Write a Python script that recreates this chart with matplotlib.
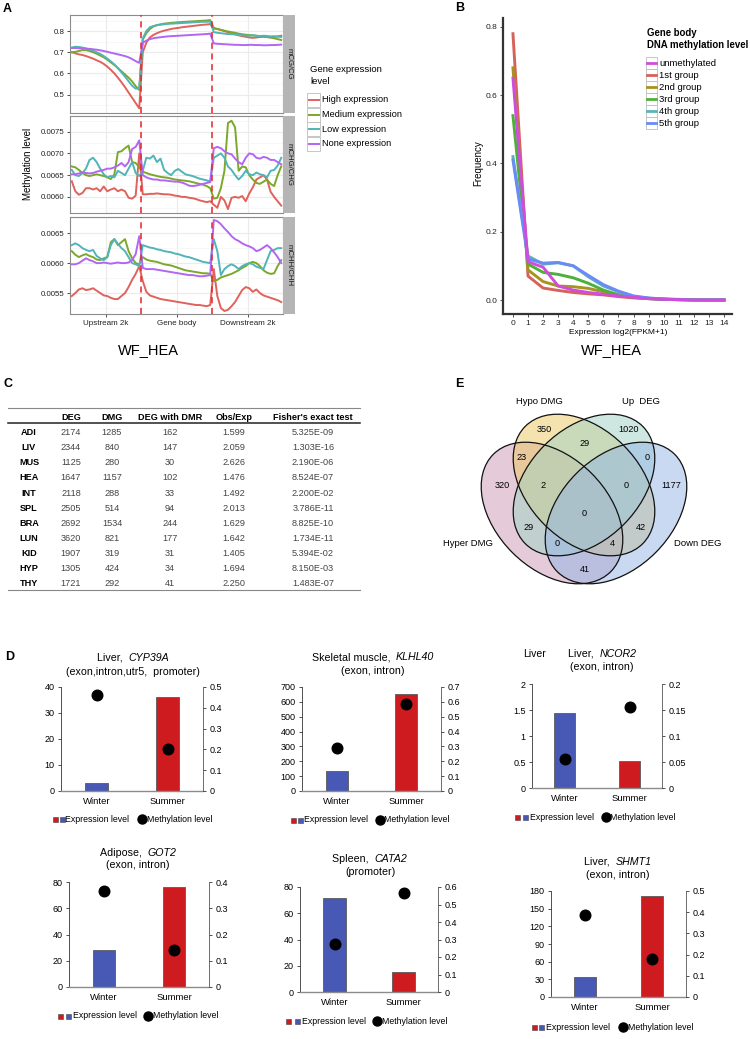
import numpy as np
import matplotlib
matplotlib.use("Agg")
import matplotlib.pyplot as plt
from matplotlib.patches import Ellipse, Rectangle
from matplotlib.lines import Line2D
from matplotlib.ticker import AutoMinorLocator, FuncFormatter

plt.rcParams['font.family'] = ['Liberation Sans', 'DejaVu Sans']

W, H = 750, 1039

# ---------------- panel A data (20 bins upstream, body, downstream) ----------------
expr_levels = ["High expression", "Medium expression", "Low expression", "None expression"]

cg_high = [0.700, 0.695, 0.690, 0.687, 0.682, 0.676, 0.670, 0.662, 0.655, 0.645, 0.632, 0.617, 0.600, 0.580, 0.558, 0.535, 0.510, 0.485, 0.460, 0.435,
           0.700, 0.745, 0.770, 0.782, 0.790, 0.797, 0.802, 0.806, 0.810, 0.813, 0.815, 0.818, 0.820, 0.822, 0.824, 0.826, 0.828, 0.830, 0.831, 0.833,
           0.812, 0.810, 0.805, 0.800, 0.795, 0.790, 0.785, 0.780, 0.776, 0.773, 0.770, 0.768, 0.770, 0.772, 0.773, 0.772, 0.770, 0.772, 0.775, 0.778]
cg_med = [0.700, 0.702, 0.706, 0.710, 0.710, 0.706, 0.700, 0.693, 0.685, 0.676, 0.665, 0.652, 0.640, 0.625, 0.610, 0.595, 0.580, 0.562, 0.540, 0.522,
          0.760, 0.790, 0.810, 0.822, 0.828, 0.832, 0.835, 0.837, 0.839, 0.840, 0.842, 0.843, 0.844, 0.845, 0.846, 0.847, 0.848, 0.849, 0.850, 0.852,
          0.815, 0.810, 0.806, 0.802, 0.798, 0.795, 0.792, 0.788, 0.785, 0.783, 0.781, 0.780, 0.778, 0.776, 0.775, 0.772, 0.770, 0.766, 0.762, 0.758]
cg_low = [0.722, 0.726, 0.725, 0.722, 0.718, 0.713, 0.708, 0.700, 0.692, 0.682, 0.670, 0.657, 0.642, 0.625, 0.605, 0.585, 0.563, 0.542, 0.528, 0.530,
          0.765, 0.800, 0.818, 0.824, 0.828, 0.830, 0.832, 0.834, 0.835, 0.836, 0.837, 0.838, 0.839, 0.840, 0.841, 0.842, 0.843, 0.844, 0.844, 0.845,
          0.795, 0.792, 0.790, 0.788, 0.786, 0.785, 0.784, 0.782, 0.780, 0.779, 0.778, 0.780, 0.778, 0.776, 0.778, 0.777, 0.775, 0.776, 0.774, 0.772]
cg_none = [0.720, 0.720, 0.719, 0.718, 0.717, 0.716, 0.714, 0.712, 0.709, 0.706, 0.702, 0.698, 0.694, 0.690, 0.686, 0.682, 0.676, 0.668, 0.658, 0.650,
           0.745, 0.755, 0.762, 0.766, 0.769, 0.771, 0.773, 0.775, 0.776, 0.777, 0.778, 0.779, 0.780, 0.781, 0.782, 0.783, 0.784, 0.785, 0.786, 0.788,
           0.742, 0.740, 0.739, 0.738, 0.737, 0.736, 0.735, 0.735, 0.734, 0.734, 0.735, 0.735, 0.734, 0.734, 0.733, 0.733, 0.734, 0.734, 0.735, 0.736]

chg_high = [0.00636, 0.00613, 0.00605, 0.00609, 0.00620, 0.00620, 0.00617, 0.00620, 0.00613, 0.00624, 0.00613, 0.00617, 0.00620, 0.00613, 0.00617, 0.00613, 0.00598, 0.00596, 0.00603, 0.00700,
            0.00606, 0.00606, 0.00607, 0.00607, 0.00608, 0.00607, 0.00606, 0.00606, 0.00605, 0.00603, 0.00602, 0.00600, 0.00600, 0.00598, 0.00597, 0.00595, 0.00592, 0.00590, 0.00588, 0.00590,
            0.00582, 0.00575, 0.00600, 0.00592, 0.00572, 0.00598, 0.00600, 0.00598, 0.00602, 0.00590, 0.00608, 0.00622, 0.00640, 0.00645, 0.00650, 0.00640, 0.00612, 0.00600, 0.00590, 0.00580]
chg_med = [0.00670, 0.00668, 0.00662, 0.00655, 0.00650, 0.00648, 0.00650, 0.00652, 0.00650, 0.00648, 0.00645, 0.00641, 0.00652, 0.00703, 0.00705, 0.00712, 0.00718, 0.00680, 0.00678, 0.00668,
           0.00658, 0.00655, 0.00652, 0.00650, 0.00648, 0.00646, 0.00645, 0.00644, 0.00642, 0.00640, 0.00639, 0.00638, 0.00637, 0.00636, 0.00634, 0.00632, 0.00630, 0.00628, 0.00625, 0.00620,
           0.00596, 0.00598, 0.00620, 0.00660, 0.00770, 0.00775, 0.00760, 0.00660, 0.00670, 0.00668, 0.00650, 0.00640, 0.00632, 0.00630, 0.00635, 0.00640, 0.00630, 0.00625, 0.00650, 0.00670]
chg_low = [0.00662, 0.00650, 0.00648, 0.00655, 0.00665, 0.00685, 0.00690, 0.00680, 0.00665, 0.00652, 0.00645, 0.00648, 0.00645, 0.00660, 0.00655, 0.00650, 0.00665, 0.00680, 0.00655, 0.00648,
           0.00660, 0.00690, 0.00688, 0.00695, 0.00680, 0.00688, 0.00662, 0.00655, 0.00650, 0.00660, 0.00664, 0.00658, 0.00652, 0.00650, 0.00648, 0.00645, 0.00642, 0.00640, 0.00638, 0.00635,
           0.00690, 0.00695, 0.00700, 0.00690, 0.00670, 0.00662, 0.00650, 0.00640, 0.00648, 0.00660, 0.00652, 0.00650, 0.00656, 0.00652, 0.00650, 0.00645, 0.00660, 0.00662, 0.00672, 0.00690]
chg_none = [0.00652, 0.00652, 0.00654, 0.00656, 0.00655, 0.00654, 0.00655, 0.00658, 0.00660, 0.00662, 0.00665, 0.00665, 0.00668, 0.00672, 0.00678, 0.00670, 0.00680, 0.00710, 0.00715, 0.00730,
            0.00650, 0.00645, 0.00642, 0.00640, 0.00640, 0.00638, 0.00638, 0.00637, 0.00636, 0.00635, 0.00635, 0.00633, 0.00630, 0.00626, 0.00625, 0.00626, 0.00628, 0.00630, 0.00632, 0.00634,
            0.00712, 0.00715, 0.00712, 0.00705, 0.00700, 0.00698, 0.00688, 0.00680, 0.00675, 0.00690, 0.00700, 0.00698, 0.00690, 0.00688, 0.00692, 0.00690, 0.00685, 0.00685, 0.00680, 0.00675]

chh_high = [0.00545, 0.00550, 0.00556, 0.00558, 0.00555, 0.00556, 0.00558, 0.00554, 0.00550, 0.00546, 0.00545, 0.00542, 0.00540, 0.00540, 0.00545, 0.00550, 0.00560, 0.00572, 0.00582, 0.00595,
            0.00570, 0.00552, 0.00546, 0.00544, 0.00542, 0.00540, 0.00539, 0.00538, 0.00537, 0.00536, 0.00535, 0.00534, 0.00533, 0.00532, 0.00531, 0.00530, 0.00530, 0.00529, 0.00528, 0.00530,
            0.00590, 0.00545, 0.00525, 0.00520, 0.00522, 0.00528, 0.00535, 0.00545, 0.00555, 0.00560, 0.00558, 0.00552, 0.00556, 0.00550, 0.00546, 0.00544, 0.00542, 0.00540, 0.00538, 0.00535]
chh_med = [0.00620, 0.00614, 0.00610, 0.00613, 0.00615, 0.00612, 0.00610, 0.00606, 0.00605, 0.00608, 0.00610, 0.00635, 0.00640, 0.00630, 0.00635, 0.00640, 0.00620, 0.00608, 0.00600, 0.00598,
           0.00610, 0.00606, 0.00604, 0.00603, 0.00602, 0.00600, 0.00598, 0.00597, 0.00596, 0.00594, 0.00592, 0.00590, 0.00588, 0.00587, 0.00586, 0.00585, 0.00584, 0.00583, 0.00583, 0.00582,
           0.00570, 0.00572, 0.00576, 0.00578, 0.00580, 0.00582, 0.00585, 0.00588, 0.00592, 0.00595, 0.00600, 0.00602, 0.00600, 0.00595, 0.00588, 0.00584, 0.00582, 0.00583, 0.00595, 0.00605]
chh_low = [0.00630, 0.00633, 0.00630, 0.00625, 0.00622, 0.00620, 0.00622, 0.00612, 0.00608, 0.00605, 0.00610, 0.00630, 0.00640, 0.00632, 0.00625, 0.00620, 0.00610, 0.00600, 0.00598, 0.00595,
           0.00630, 0.00628, 0.00626, 0.00625, 0.00623, 0.00622, 0.00620, 0.00619, 0.00618, 0.00616, 0.00615, 0.00613, 0.00611, 0.00610, 0.00608, 0.00606, 0.00604, 0.00602, 0.00601, 0.00600,
           0.00640, 0.00620, 0.00580, 0.00590, 0.00595, 0.00598, 0.00595, 0.00590, 0.00595, 0.00598, 0.00600, 0.00598, 0.00594, 0.00592, 0.00590, 0.00605, 0.00620, 0.00622, 0.00625, 0.00625]
chh_none = [0.00598, 0.00598, 0.00600, 0.00604, 0.00608, 0.00605, 0.00603, 0.00600, 0.00600, 0.00601, 0.00600, 0.00599, 0.00600, 0.00601, 0.00600, 0.00600, 0.00601, 0.00605, 0.00615, 0.00645,
            0.00592, 0.00590, 0.00590, 0.00590, 0.00589, 0.00588, 0.00587, 0.00586, 0.00585, 0.00584, 0.00583, 0.00582, 0.00581, 0.00580, 0.00580, 0.00579, 0.00578, 0.00578, 0.00579, 0.00580,
            0.00672, 0.00670, 0.00665, 0.00658, 0.00652, 0.00645, 0.00640, 0.00637, 0.00633, 0.00630, 0.00628, 0.00625, 0.00620, 0.00622, 0.00626, 0.00630, 0.00625, 0.00618, 0.00610, 0.00600]

region_ticks = ["Upstream 2k", "Gene body", "Downstream 2k"]

# ---------------- panel B data ----------------
expr_bins = list(range(15))
meth_groups = ["unmethylated", "1st group", "2nd group", "3rd group", "4th group", "5th group"]
freq_unmeth = [0.65, 0.112, 0.096, 0.041, 0.029, 0.022, 0.017, 0.012, 0.008, 0.004, 0.002, 0.001, 0.0, 0.0, 0.0]
freq_g1 = [0.78, 0.070, 0.035, 0.028, 0.022, 0.018, 0.015, 0.010, 0.006, 0.004, 0.002, 0.001, 0.001, 0.0, 0.0]
freq_g2 = [0.68, 0.088, 0.054, 0.041, 0.039, 0.034, 0.024, 0.015, 0.008, 0.005, 0.003, 0.002, 0.001, 0.0, 0.0]
freq_g3 = [0.54, 0.105, 0.081, 0.075, 0.065, 0.049, 0.029, 0.015, 0.008, 0.004, 0.002, 0.001, 0.0, 0.0, 0.0]
freq_g4 = [0.42, 0.129, 0.105, 0.109, 0.100, 0.068, 0.041, 0.024, 0.010, 0.005, 0.002, 0.001, 0.0, 0.0, 0.0]
freq_g5 = [0.41, 0.120, 0.108, 0.110, 0.100, 0.072, 0.045, 0.026, 0.012, 0.006, 0.003, 0.001, 0.0, 0.0, 0.0]

# ---------------- panel C data ----------------
tissues = ["ADI", "LIV", "MUS", "HEA", "INT", "SPL", "BRA", "LUN", "KID", "HYP", "THY"]
deg = [2174, 2344, 1125, 1647, 2118, 2505, 2692, 3620, 1907, 1305, 1721]
dmg = [1285, 840, 280, 1157, 288, 514, 1534, 821, 319, 424, 292]
deg_with_dmr = [162, 147, 30, 102, 33, 94, 244, 177, 31, 34, 41]
obs_exp = [1.599, 2.059, 2.626, 1.476, 1.492, 2.013, 1.629, 1.642, 1.405, 1.694, 2.250]
fisher_p = [5.325e-09, 1.303e-16, 2.190e-06, 8.524e-07, 2.200e-02, 3.786e-11, 8.825e-10, 1.734e-11, 5.394e-02, 8.150e-03, 1.483e-07]
table_cols = ["DEG", "DMG", "DEG with DMR", "Obs/Exp", "Fisher's exact test"]

# ---------------- panel D data ----------------
seasons = ["Winter", "Summer"]
gene_tissue = ["Liver", "Skeletal muscle", "Liver", "Adipose", "Spleen", "Liver"]
gene_names = ["CYP39A", "KLHL40", "NCOR2", "GOT2", "CATA2", "SHMT1"]
gene_regions = ["(exon,intron,utr5,  promoter)", "(exon, intron)", "(exon, intron)",
                "(exon, intron)", "(promoter)", "(exon, intron)"]
expr_level = [[3, 36], [135, 650], [1.45, 0.51], [28.5, 76], [72, 15.5], [34, 171]]
meth_level = [[0.46, 0.20], [0.29, 0.585], [0.055, 0.155], [0.365, 0.14], [0.275, 0.565], [0.385, 0.18]]
expr_ticks = [[0, 10, 20, 30, 40], [0, 100, 200, 300, 400, 500, 600, 700], [0, 0.5, 1, 1.5, 2],
              [0, 20, 40, 60, 80], [0, 20, 40, 60, 80], [0, 30, 60, 90, 120, 150, 180]]
meth_ticks = [[0, 0.1, 0.2, 0.3, 0.4, 0.5], [0, 0.1, 0.2, 0.3, 0.4, 0.5, 0.6, 0.7], [0, 0.05, 0.1, 0.15, 0.2],
              [0, 0.1, 0.2, 0.3, 0.4], [0, 0.1, 0.2, 0.3, 0.4, 0.5, 0.6], [0, 0.1, 0.2, 0.3, 0.4, 0.5]]

# ---------------- panel E data ----------------
venn_sets = ["Hyper DMG", "Hypo DMG", "Up  DEG", "Down DEG"]
venn_counts = {"A": 320, "B": 350, "C": 1020, "D": 1177,
               "AB": 23, "BC": 29, "CD": 0, "AC": 29, "BD": 42, "AD": 41,
               "ABC": 2, "BCD": 0, "ACD": 0, "ABD": 4, "ABCD": 0}


def px(x0, y0, x1, y1):
    return [x0 / W, 1 - y1 / H, (x1 - x0) / W, (y1 - y0) / H]


fig = plt.figure(figsize=(W / 100, H / 100), dpi=100)

# ================= panel A =================
a_colors = ['#E0625C', '#7CA72A', '#50B4B8', '#B366F3']
facets = [
    ("mCG/CG", [cg_high, cg_med, cg_low, cg_none], (0.413, 0.876), [0.5, 0.6, 0.7, 0.8], "{:.1f}", (15, 113)),
    ("mCHG/CHG", [chg_high, chg_med, chg_low, chg_none], (0.00563, 0.00786), [0.0060, 0.0065, 0.0070, 0.0075], "{:.4f}", (116, 213)),
    ("mCHH/CHH", [chh_high, chh_med, chh_low, chh_none], (0.00515, 0.00677), [0.0055, 0.0060, 0.0065], "{:.4f}", (217, 314)),
]
u = np.arange(60) + 0.5
for i, (strip, series, ylim, yt, fmt, (top, bot)) in enumerate(facets):
    ax = fig.add_axes(px(70, top, 283, bot))
    for s, c in zip(series, a_colors):
        ax.plot(u, s, color=c, lw=1.4, zorder=3)
    for xv in (20, 40):
        ax.axvline(xv, color='#E5262B', lw=1.1, ls=(0, (4, 3)), zorder=5)
    ax.set_xlim(0.3, 59.7)
    ax.set_ylim(*ylim)
    ax.set_xticks([10, 30, 50])
    ax.set_xticks([0, 20, 40, 60], minor=True)
    ax.set_yticks(yt)
    ax.set_yticklabels([fmt.format(v) for v in yt])
    ax.yaxis.set_minor_locator(AutoMinorLocator(2))
    ax.grid(which='major', color='#EBEBEB', lw=0.8, zorder=0)
    ax.grid(which='minor', color='#F4F4F4', lw=0.5, zorder=0)
    ax.set_axisbelow(True)
    for sp in ax.spines.values():
        sp.set_color('#8C8C8C')
        sp.set_linewidth(0.8)
    ax.tick_params(axis='both', which='major', length=2.5, width=0.6, color='#333333',
                   labelsize=5.7, pad=1.5, labelcolor='#222222')
    ax.tick_params(which='minor', length=0)
    if i < 2:
        ax.tick_params(axis='x', length=0, labelbottom=False)
    else:
        ax.set_xticklabels(region_ticks, fontsize=5.8)
    sax = fig.add_axes(px(283, top, 295, bot))
    sax.set_facecolor('#B5B5B5')
    sax.set_xticks([])
    sax.set_yticks([])
    for sp in sax.spines.values():
        sp.set_visible(False)
    sax.text(0.5, 0.5, strip, rotation=-90, ha='center', va='center', fontsize=5.6, color='#1A1A1A',
             transform=sax.transAxes)

# ================= panel B =================
b_colors = ['#D04CDA', '#D4645A', '#A8931E', '#4DB03A', '#5BB3B5', '#6A8AF8']
b_series = [freq_unmeth, freq_g1, freq_g2, freq_g3, freq_g4, freq_g5]
axb = fig.add_axes(px(503, 18, 732, 314))
for k in [1, 2, 3, 4, 5, 0]:
    axb.plot(expr_bins, b_series[k], color=b_colors[k], lw=2.1, solid_joinstyle='round')
axb.set_xlim(-0.66, 14.53)
axb.set_ylim(-0.041, 0.826)
axb.set_xticks(expr_bins)
axb.set_yticks([0.0, 0.2, 0.4, 0.6, 0.8])
axb.set_yticklabels(["0.0", "0.2", "0.4", "0.6", "0.8"])
for sp in ['top', 'right']:
    axb.spines[sp].set_visible(False)
for sp in ['left', 'bottom']:
    axb.spines[sp].set_color('#333333')
    axb.spines[sp].set_linewidth(1.6)
axb.tick_params(length=2.5, width=0.6, labelsize=6, pad=1.5, color='#333333', labelcolor='#222222')

# ================= panel D =================
d_boxes = [(61, 687, 203, 791), (302, 687, 441, 791), (532, 684, 662, 788),
           (69, 882, 209, 987), (300, 887, 438, 992), (551, 891, 686, 997)]
bar_blue, bar_red = '#4758B5', '#CD1B20'
fmt_g = FuncFormatter(lambda v, p: "{:g}".format(round(v, 4)))
for j, (x0, y0, x1, y1) in enumerate(d_boxes):
    ax = fig.add_axes(px(x0, y0, x1, y1))
    ax.bar([0, 1], expr_level[j], width=0.32, color=[bar_blue, bar_red], edgecolor='#5A5A5A', lw=0.6, zorder=2)
    ax.set_xlim(-0.5, 1.5)
    ax.set_ylim(0, expr_ticks[j][-1])
    ax.set_yticks(expr_ticks[j])
    ax.yaxis.set_major_formatter(fmt_g)
    ax.set_xticks([0, 1])
    ax.set_xticklabels(seasons)
    ax.spines['top'].set_visible(False)
    ax.spines['right'].set_visible(False)
    ax.spines['left'].set_color('#333333')
    ax.spines['left'].set_linewidth(0.6)
    ax.spines['bottom'].set_color('#8C8C8C')
    ax.spines['bottom'].set_linewidth(1.0)
    ax.tick_params(axis='y', length=2.5, width=0.6, labelsize=6.5, pad=2, color='#333333')
    ax.tick_params(axis='x', length=0, labelsize=6.8, pad=4)
    ax2 = ax.twinx()
    ax2.scatter([0, 1], meth_level[j], s=58, color='black', zorder=4)
    ax2.set_ylim(0, meth_ticks[j][-1])
    ax2.set_yticks(meth_ticks[j])
    ax2.yaxis.set_major_formatter(fmt_g)
    for sp in ['top', 'left', 'bottom']:
        ax2.spines[sp].set_visible(False)
    ax2.spines['right'].set_color('#555555')
    ax2.spines['right'].set_linewidth(0.6)
    ax2.tick_params(axis='y', length=2.5, width=0.6, labelsize=6.5, pad=2, color='#333333')

# ================= overlay (text, legends, table, venn) =================
ov = fig.add_axes([0, 0, 1, 1])
ov.set_xlim(0, W)
ov.set_ylim(H, 0)
ov.axis('off')

for letter, (lx, ly) in zip("ABCDE", [(3, 9), (455, 8), (3, 384), (5, 657), (455, 384)]):
    ov.text(lx, ly, letter, fontsize=9, fontweight='bold', ha='left', va='center')

# panel A labels and legend
ov.text(28, 164, "Methylation level", rotation=90, ha='center', va='center', fontsize=7)
ov.text(148, 350, "WF_HEA", ha='center', va='center', fontsize=10.5)
ov.text(310, 70, "Gene expression", ha='left', va='center', fontsize=6.8)
ov.text(310, 81, "level", ha='left', va='center', fontsize=6.8)
for k, (lab, c) in enumerate(zip(expr_levels, a_colors)):
    yc = 100 + k * 14.5
    ov.add_patch(Rectangle((307, yc - 7), 13, 14, fc='white', ec='#BDBDBD', lw=0.6))
    ov.add_line(Line2D([308.5, 318.5], [yc, yc], color=c, lw=1.4))
    ov.text(322, yc, lab, ha='left', va='center', fontsize=6.6)

# panel B labels and legend
ov.text(478, 163, "Frequency", rotation=90, ha='center', va='center', fontsize=7)
ov.text(618, 332, "Expression log2(FPKM+1)", ha='center', va='center', fontsize=6)
ov.text(611, 350, "WF_HEA", ha='center', va='center', fontsize=10.5)
ov.text(647, 33, "Gene body", ha='left', va='center', fontsize=6.9, fontweight='bold')
ov.text(647, 45, "DNA methylation level", ha='left', va='center', fontsize=6.9, fontweight='bold')
for k, (lab, c) in enumerate(zip(meth_groups, b_colors)):
    yc = 63 + k * 12
    ov.add_patch(Rectangle((646, yc - 6), 11, 12, fc='white', ec='#BDBDBD', lw=0.6))
    ov.add_line(Line2D([647, 656], [yc, yc], color=c, lw=2.0))
    ov.text(659, yc, lab, ha='left', va='center', fontsize=6.8)

# panel C table
col_x = [29, 71, 112, 170, 234, 313]
ov.add_line(Line2D([8, 360], [408, 408], color='#888888', lw=0.8))
ov.add_line(Line2D([8, 360], [423, 423], color='#222222', lw=1.1))
ov.add_line(Line2D([8, 360], [590, 590], color='#888888', lw=0.8))
for cx, name in zip(col_x[1:], table_cols):
    ov.text(cx, 417, name, ha='center', va='center', fontsize=6.6, fontweight='bold')
for r, t in enumerate(tissues):
    yr = 432.5 + r * 15.15
    cells = [str(deg[r]), str(dmg[r]), str(deg_with_dmr[r]), "{:.3f}".format(obs_exp[r]),
             "{:.3E}".format(fisher_p[r])]
    ov.text(col_x[0], yr, t, ha='center', va='center', fontsize=6.6, fontweight='bold')
    for cx, v in zip(col_x[1:], cells):
        ov.text(cx, yr, v, ha='center', va='center', fontsize=6.6, color='#444444')

# panel E venn
ell_a, ell_b = 83, 56
venn_geom = [((552, 513), 45, '#CD99B5'), ((584, 485), 45, '#EDC961'),
             ((584, 485), -45, '#9FD3C5'), ((616, 513), -45, '#93B5E5')]
for (cxy, ang, fc) in venn_geom:
    ov.add_patch(Ellipse(cxy, 2 * ell_a, 2 * ell_b, angle=ang, fc=fc, alpha=0.5, ec='none'))
for (cxy, ang, fc) in venn_geom:
    ov.add_patch(Ellipse(cxy, 2 * ell_a, 2 * ell_b, angle=ang, fc='none', ec='#111111', lw=0.9))
for name, (nx, ny) in zip(venn_sets, [(468, 543), (539, 402), (641, 402), (698, 543)]):
    ov.text(nx, ny, name, ha='center', va='center', fontsize=6.8)
count_pos = {"B": (544, 429), "C": (629, 429), "BC": (585, 443), "AB": (522, 457), "CD": (647, 457),
             "A": (502, 485), "ABC": (543, 485), "BCD": (626, 485), "D": (671, 485), "ABCD": (584, 513),
             "AC": (529, 527), "BD": (641, 527), "ACD": (557, 544), "ABD": (612, 544), "AD": (585, 569)}
for key, (cx, cy) in count_pos.items():
    ov.text(cx, cy, str(venn_counts[key]), ha='center', va='center', fontsize=6.6)

# panel D titles (tissue upright, gene italic) and legends
renderer = fig.canvas.get_renderer()
title_pos = [(133, 658, 672), (373, 657, 671), (602, 654, 667), (138, 853, 865), (370, 859, 872), (618, 862, 875)]
for j, (tx, t1, t2) in enumerate(title_pos):
    p1 = ov.text(0, t1, gene_tissue[j] + ",  ", ha='left', va='center', fontsize=7.7)
    p2 = ov.text(0, t1, gene_names[j], ha='left', va='center', fontsize=7.7, style='italic')
    w1 = p1.get_window_extent(renderer).width
    w2 = p2.get_window_extent(renderer).width
    x_start = tx - (w1 + w2) / 2
    p1.set_x(x_start)
    p2.set_x(x_start + w1)
    ov.text(tx, t2, gene_regions[j], ha='center', va='center', fontsize=7.7)
ov.text(523, 654, "Liver", ha='left', va='center', fontsize=7.5)

legend_pos = [(55.5, 62, 65, 142, 147, 819), (293, 300, 304, 380, 384, 820), (517, 525, 530, 606, 610, 817),
              (60.5, 68.5, 73, 148, 153, 1016), (288.5, 297, 302, 377, 382, 1021), (534, 541.5, 546, 623, 628, 1027)]
for (r_x, b_x, t_x, d_x, dt_x, ly) in legend_pos:
    ov.add_patch(Rectangle((r_x - 2.5, ly - 2.5), 5, 5, fc=bar_red, ec='#444444', lw=0.4))
    ov.add_patch(Rectangle((b_x - 2.5, ly - 2.5), 5, 5, fc=bar_blue, ec='#444444', lw=0.4))
    ov.text(t_x, ly, "Expression level", ha='left', va='center', fontsize=6.3)
    ov.plot([d_x], [ly], 'o', color='black', ms=6.5)
    ov.text(dt_x, ly, "Methylation level", ha='left', va='center', fontsize=6.3)

fig.savefig("out.png", dpi=100)
